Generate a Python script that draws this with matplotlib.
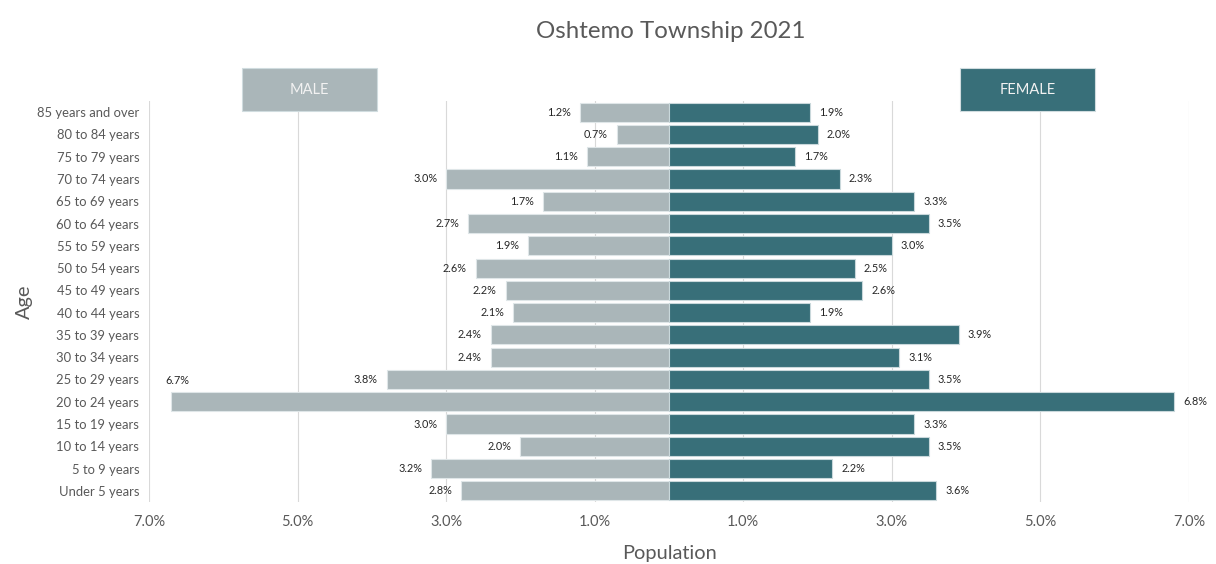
#!/usr/bin/env python3

import matplotlib
matplotlib.use('Agg')
import matplotlib.pyplot as plt
import matplotlib.transforms as mtransforms
from matplotlib.patches import Rectangle

"""Population pyramid for Oshtemo Township, 2021."""

ages = ['Under 5 years', '5 to 9 years', '10 to 14 years', '15 to 19 years',
        '20 to 24 years', '25 to 29 years', '30 to 34 years', '35 to 39 years',
        '40 to 44 years', '45 to 49 years', '50 to 54 years', '55 to 59 years',
        '60 to 64 years', '65 to 69 years', '70 to 74 years', '75 to 79 years',
        '80 to 84 years', '85 years and over']
male = [2.8, 3.2, 2.0, 3.0, 6.7, 3.8, 2.4, 2.4, 2.1, 2.2, 2.6, 1.9, 2.7, 1.7, 3.0, 1.1, 0.7, 1.2]
female = [3.6, 2.2, 3.5, 3.3, 6.8, 3.5, 3.1, 3.9, 1.9, 2.6, 2.5, 3.0, 3.5, 3.3, 2.3, 1.7, 2.0, 1.9]
xticks = [-7, -5, -3, -1, 1, 3, 5, 7]

MALE_COLOR = '#aab6b9'
FEMALE_COLOR = '#386f79'
TEXT_GRAY = '#595959'

plt.rcParams['font.family'] = ['Lato', 'DejaVu Sans']

fig = plt.figure(figsize=(12.16, 5.64), dpi=100)
ax = fig.add_axes([149 / 1216, 1 - 502 / 564, 1040 / 1216, 401 / 564])

y = list(range(len(ages)))
ax.barh(y, [-m for m in male], height=0.86, color=MALE_COLOR, edgecolor='#dfe6e8', linewidth=0.8, zorder=3)
ax.barh(y, female, height=0.86, color=FEMALE_COLOR, edgecolor='#c9d8db', linewidth=0.8, zorder=3)

for i, (m, f) in enumerate(zip(male, female)):
    if m > 6:
        # excel put this one above the bar
        ax.text(-m + 0.08, i + 0.95, f'{m:.1f}%', ha='center', va='center', fontsize=7.8, color='#262626', clip_on=False)
    else:
        ax.text(-m - 0.12, i, f'{m:.1f}%', ha='right', va='center', fontsize=7.8, color='#262626')
    ax.text(f + 0.12, i, f'{f:.1f}%', ha='left', va='center', fontsize=7.8, color='#262626', clip_on=False)

ax.set_xlim(-7, 7)
ax.set_ylim(-0.5, len(ages) - 0.5)
ax.set_yticks(y)
ax.set_yticklabels(ages, fontsize=9.4, color=TEXT_GRAY)
ax.set_xticks(xticks)
ax.set_xticklabels([f'{abs(t):.1f}%' for t in xticks], fontsize=10.5, color=TEXT_GRAY)
ax.tick_params(length=0, pad=9)
ax.tick_params(axis='y', pad=7)
ax.grid(axis='x', color='#d9d9d9', linewidth=0.8, zorder=0)
for s in ax.spines.values():
    s.set_visible(False)

ax.set_xlabel('Population', fontsize=14.4, color=TEXT_GRAY, labelpad=12)
ax.set_ylabel('Age', fontsize=14.4, color=TEXT_GRAY, labelpad=3)
fig.text(671 / 1216, 1 - 31 / 564, 'Oshtemo Township 2021', ha='center', va='center', fontsize=17.3, color=TEXT_GRAY)

# MALE / FEMALE header boxes
trans = mtransforms.blended_transform_factory(ax.transData, ax.transAxes)
for x0, x1, label, color in [(-5.75, -3.93, 'MALE', MALE_COLOR), (3.92, 5.73, 'FEMALE', FEMALE_COLOR)]:
    ax.add_patch(Rectangle((x0, 0.975), x1 - x0, 0.107, transform=trans, facecolor=color,
                           edgecolor='#d0dcdf', linewidth=0.8, clip_on=False, zorder=5))
    ax.text((x0 + x1) / 2, 1.028, label, transform=trans, ha='center', va='center',
            fontsize=10.5, color='#f2f2f2', zorder=6)

fig.savefig('out.png', dpi=100)
